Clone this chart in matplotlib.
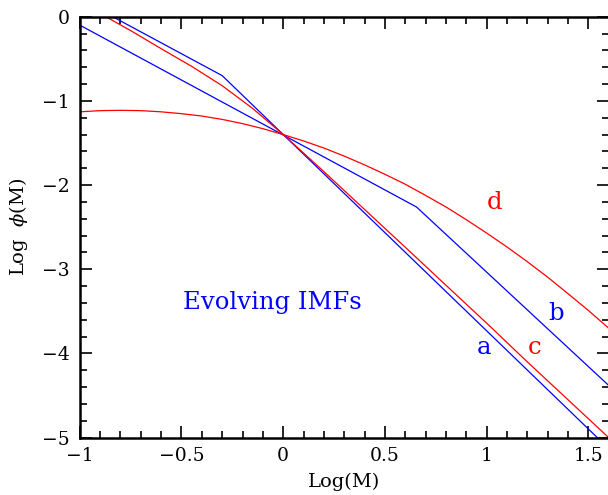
import numpy as np
import matplotlib
matplotlib.use("Agg")
import matplotlib.pyplot as plt
from matplotlib.ticker import MultipleLocator

# values
a_x = [-1.0, -0.3, 1.6]
a_y = [0.21, -0.70, -5.13]

b_x = [-1.0, 0.655, 1.6]
b_y = [-0.10, -2.26, -4.38]

c_x = [-0.872, -0.75, -0.6, -0.45, -0.3, -0.15, 0.0, 0.2, 0.4, 0.614, 0.8, 1.0, 1.2, 1.4, 1.6]
c_y = [0.00, -0.165, -0.38, -0.59, -0.82, -1.09, -1.40, -1.84, -2.29, -2.77, -3.19, -3.64, -4.10, -4.55, -5.00]

d_x = [-1.0, -0.9, -0.8, -0.7, -0.6, -0.5, -0.4, -0.3, -0.2, -0.1, 0.0, 0.1, 0.2, 0.3, 0.4,
       0.5, 0.6, 0.7, 0.8, 0.9, 1.0, 1.1, 1.2, 1.3, 1.4, 1.5, 1.6]
d_y = [-1.13, -1.116, -1.112, -1.116, -1.13, -1.152, -1.18, -1.22, -1.27, -1.33, -1.40, -1.476,
       -1.56, -1.656, -1.76, -1.872, -1.99, -2.123, -2.26, -2.411, -2.57, -2.735, -2.91,
       -3.094, -3.29, -3.489, -3.70]

# curve labels: (text, x, y, colour)
curve_labels = [
    ("a", 0.985, -3.93, "blue"),
    ("b", 1.342, -3.52, "blue"),
    ("c", 1.235, -3.93, "red"),
    ("d", 1.039, -2.21, "red"),
]
title_text = "Evolving IMFs"

plt.rcParams["font.family"] = ["DejaVu Serif"]
plt.rcParams["mathtext.fontset"] = "dejavuserif"

fig = plt.figure(figsize=(6.08, 4.95), dpi=100)
ax = fig.add_axes([0.1312, 0.1158, 0.870, 0.8505])

ax.plot(a_x, a_y, color="blue", lw=0.9)
ax.plot(b_x, b_y, color="blue", lw=0.9)
ax.plot(c_x, c_y, color="red", lw=0.9)
ax.plot(d_x, d_y, color="red", lw=0.9)

for txt, x, y, col in curve_labels:
    ax.text(x, y, txt, color=col, fontsize=17.5, ha="center", va="center")
ax.text(-0.055, -3.40, title_text, color="blue", fontsize=17.5, ha="center", va="center")

ax.set_xlim(-1, 1.6)
ax.set_ylim(-5, 0)
ax.xaxis.set_major_locator(MultipleLocator(0.5))
ax.xaxis.set_minor_locator(MultipleLocator(0.1))
ax.yaxis.set_major_locator(MultipleLocator(1))
ax.yaxis.set_minor_locator(MultipleLocator(0.2))
ax.set_xticks([-1, -0.5, 0, 0.5, 1, 1.5])
ax.set_xticklabels(["\u22121", "\u22120.5", "0", "0.5", "1", "1.5"])
ax.set_yticks([0, -1, -2, -3, -4, -5])
ax.set_yticklabels(["0", "\u22121", "\u22122", "\u22123", "\u22124", "\u22125"])

ax.tick_params(which="both", direction="in", top=True, right=True, width=1.2, labelsize=13.5)
ax.tick_params(which="major", length=8.5)
ax.tick_params(which="minor", length=5)
ax.tick_params(axis="x", pad=7)
ax.tick_params(axis="y", pad=7)
for sp in ax.spines.values():
    sp.set_linewidth(1.8)

ax.set_xlabel("Log(M)", fontsize=14, labelpad=5.5)
ax.set_ylabel("Log  $\\phi$(M)", fontsize=14, labelpad=9)

fig.savefig("out.png", dpi=100)
